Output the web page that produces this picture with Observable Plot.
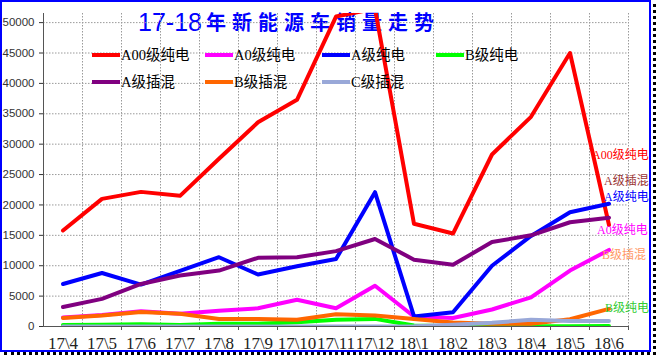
<!DOCTYPE html>
<html>
<head>
<meta charset="utf-8">
<script src="https://cdn.jsdelivr.net/npm/d3@7"></script>
<script src="https://cdn.jsdelivr.net/npm/@observablehq/plot@0.6"></script>
<style>
  html, body { margin: 0; padding: 0; background: #fff; }
  #wrap { position: relative; width: 656px; height: 355px; overflow: hidden; background: #fff; }
  #wrap svg { position: absolute; left: 0; top: 0; z-index: 1; }
  .ov { position: absolute; white-space: nowrap; z-index: 2; }
  .serif { font-family: "Liberation Serif", "Noto Sans CJK SC", serif; }
</style>
</head>
<body>
<div id="wrap"></div>
<script>
const months = ["17\\4","17\\5","17\\6","17\\7","17\\8","17\\9","17\\10","17\\11","17\\12","18\\1","18\\2","18\\3","18\\4","18\\5","18\\6"];
const seriesNames = ["A00级纯电","A0级纯电","A级纯电","B级纯电","A级插混","B级插混","C级插混"];
const seriesColors = ["#ff0000","#ff00ff","#0000ff","#00ff00","#800080","#ff6600","#99a8d8"];
const a00BEV = [15800, 21000, 22150, 21500, 27600, 33600, 37300, 51000, 52300, 16900, 15300, 28300, 34500, 45000, 16700];
const a0BEV  = [1500, 1900, 2500, 2100, 2600, 3000, 4400, 3000, 6700, 1650, 1400, 2800, 4800, 9200, 12600];
const aBEV   = [7000, 8800, 6900, 9150, 11400, 8550, 9900, 11100, 22100, 1650, 2350, 10000, 14900, 18800, 20200];
const bBEV   = [250, 300, 350, 250, 450, 450, 700, 1100, 1250, 150, 50, 50, 50, 50, 100];
const aPHEV  = [3200, 4550, 7000, 8400, 9200, 11300, 11400, 12400, 14400, 11000, 10150, 13900, 15000, 17150, 17900];
const bPHEV  = [1400, 1800, 2400, 2100, 1250, 1250, 1100, 2000, 1800, 1250, 650, 450, 450, 1200, 2900];
const cPHEV  = [0, 0, 0, 0, 0, 0, 0, 0, 0, 50, 300, 600, 1100, 900, 900];
const yTicks = [0, 5000, 10000, 15000, 20000, 25000, 30000, 35000, 40000, 45000, 50000];
const titleNum = "17-18";
const titleText = "年新能源车销量走势";

const allSeries = [a00BEV, a0BEV, aBEV, bBEV, aPHEV, bPHEV, cPHEV];
const data = [];
allSeries.forEach((vals, s) => vals.forEach((v, i) => data.push({series: seriesNames[s], i, value: v})));
const bounds = d3.range(0.5, months.length, 1);

const chart = Plot.plot({
  width: 656,
  height: 355,
  marginLeft: 43,
  marginRight: 28,
  marginTop: 13,
  marginBottom: 29,
  style: {background: "transparent", overflow: "visible"},
  x: {domain: [-0.5, months.length - 0.5]},
  y: {domain: [0, 51500]},
  color: {domain: seriesNames, range: seriesColors},
  marks: [
    Plot.gridY(yTicks.slice(1), {stroke: "#9a9a9a", strokeOpacity: 1, strokeDasharray: "1.5,1.5"}),
    Plot.ruleX(bounds, {stroke: "#9a9a9a", strokeOpacity: 1, strokeDasharray: "1.5,1.5"}),
    Plot.ruleX([-0.5], {stroke: "#555"}),
    Plot.ruleY([0], {stroke: "#555"}),
    Plot.line(data, {x: "i", y: "value", z: "series", stroke: "series", strokeWidth: 4, strokeLinejoin: "round", clip: true}),
    Plot.axisY({ticks: yTicks, tickSize: 4, tickPadding: 5, tickFormat: d => String(d), label: null,
      fontSize: 11.5, fontFamily: "Liberation Sans, Arial, sans-serif", color: "#333"}),
    Plot.axisX({ticks: bounds, tickSize: 4, tickFormat: () => "", label: null, color: "#555"}),
    Plot.axisX({ticks: d3.range(months.length), tickSize: 0, tickPadding: 10, tickFormat: i => months[i], label: null,
      fontSize: 17, fontFamily: "Liberation Serif, serif", color: "#222"})
  ]
});
const wrap = document.getElementById("wrap");

// Title (behind the plotted lines)
const title = document.createElement("div");
title.className = "ov";
title.style.cssText = "left:138px;top:4px;height:36px;color:#0000ff;line-height:36px;z-index:0;";
title.innerHTML = `<span style="font-family:'Liberation Sans',Arial,sans-serif;font-size:25px;">${titleNum}</span>` +
  `<span style="font-family:'Noto Sans CJK SC',sans-serif;font-size:20px;font-weight:bold;letter-spacing:6px;margin-left:4px;position:relative;top:-1px;">${titleText}</span>`;
wrap.appendChild(title);
wrap.appendChild(chart);

// Legend
const legendPos = [[92,55],[205,55],[322,55],[436,55],[92,82],[205,82],[322,82]];
seriesNames.forEach((name, k) => {
  const [lx, ly] = legendPos[k];
  const sw = document.createElement("div");
  sw.className = "ov";
  sw.style.cssText = `left:${lx}px;top:${ly - 2}px;width:28px;height:4px;background:${seriesColors[k]};`;
  wrap.appendChild(sw);
  const t = document.createElement("div");
  t.className = "ov serif";
  t.style.cssText = `left:${lx + 29}px;top:${ly - 10}px;font-size:14.5px;line-height:20px;color:#000;`;
  t.textContent = name;
  wrap.appendChild(t);
});

// End labels
const endLabels = [
  ["A00级纯电", "#ff0000", 592, 155],
  ["A级插混", "#993333", 604, 181],
  ["A级纯电", "#0000ff", 604, 197],
  ["A0级纯电", "#ff00ff", 597, 230],
  ["B级插混", "#ff9966", 602, 255],
  ["B级纯电", "#33cc33", 605, 308]
];
endLabels.forEach(([txt, col, lx, ly]) => {
  const t = document.createElement("div");
  t.className = "ov serif";
  t.style.cssText = `left:${lx}px;top:${ly - 8}px;font-size:12px;line-height:16px;color:${col};`;
  t.textContent = txt;
  wrap.appendChild(t);
});

// Frame
const shadow = document.createElement("div");
shadow.className = "ov";
shadow.style.cssText = "left:4px;top:4px;border-right:3px dotted #000;border-bottom:3px dotted #000;box-sizing:border-box;width:652px;height:351px;";
wrap.appendChild(shadow);
const frame = document.createElement("div");
frame.className = "ov";
frame.style.cssText = "left:0;top:0;width:651px;height:352px;border:2px solid #0000ff;box-sizing:border-box;";
wrap.appendChild(frame);
</script>
</body>
</html>
